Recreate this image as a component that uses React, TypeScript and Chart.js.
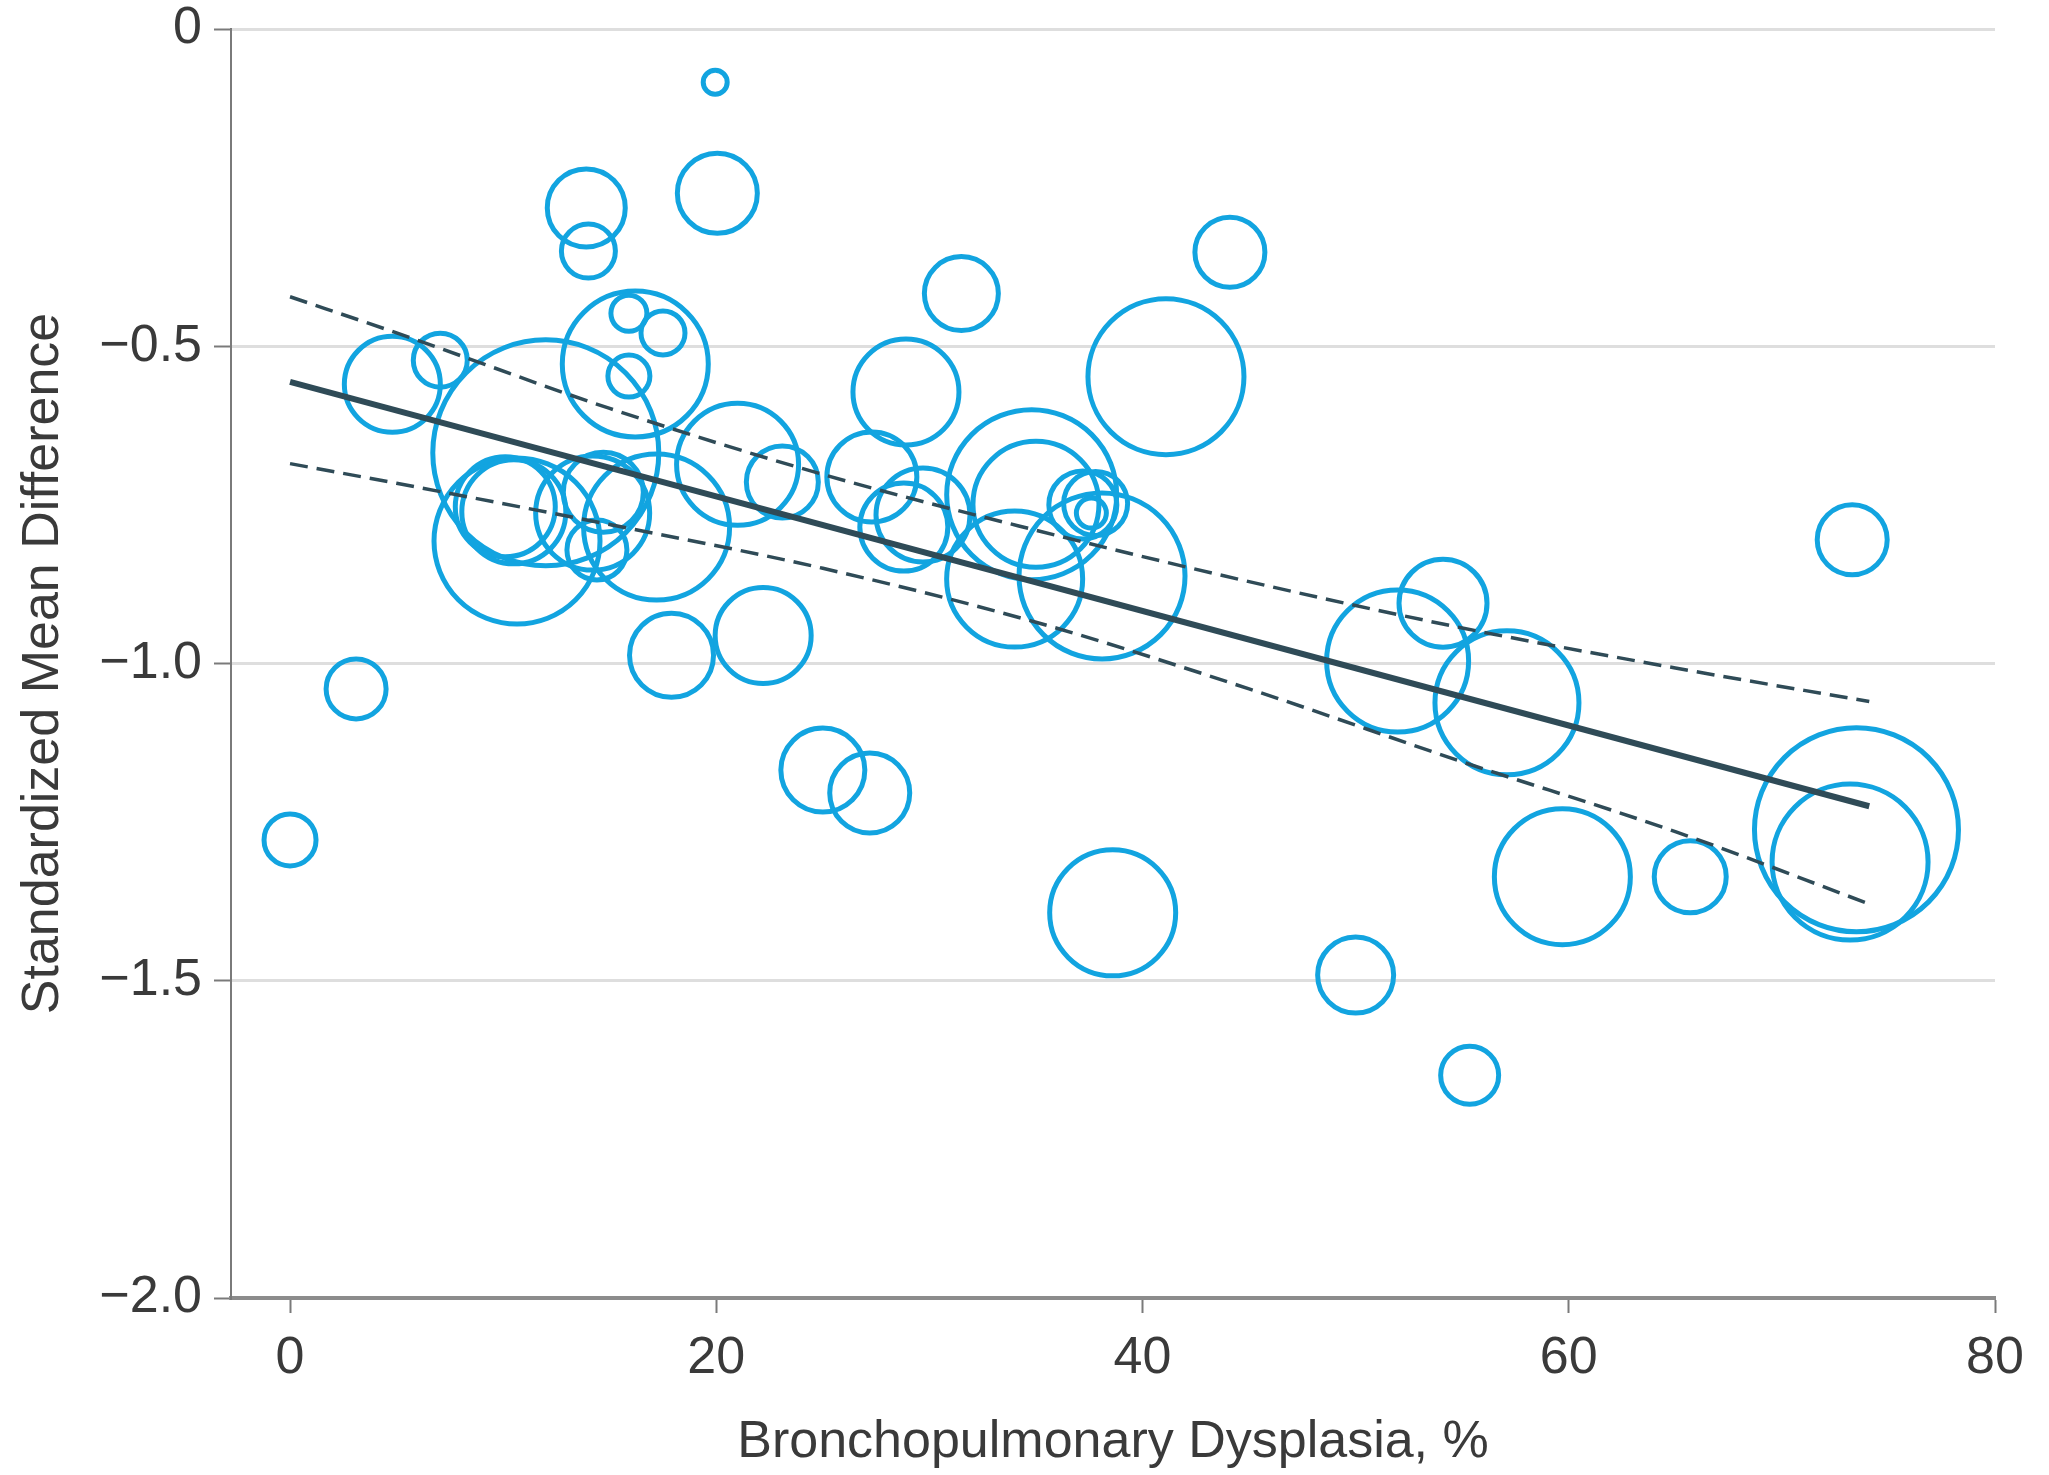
import React, { useEffect, useRef } from "react";
import { Chart, registerables } from "chart.js";

Chart.register(...registerables);

// Study bubbles: BPD % (x), standardized mean difference (y), bubble radius in px (weight)
const bubbleX = [
  0.0, 3.1, 4.8, 7.05, 12.0, 16.2, 15.9, 17.5, 15.9, 10.65,
  10.1, 10.5, 14.7, 14.2, 14.4, 17.2, 21.0, 23.1, 17.9, 22.2,
  25.0, 27.2, 27.3, 28.9, 29.7, 28.8, 34.8, 35.0, 34.0, 38.1,
  37.2, 37.8, 37.6, 41.1, 19.95, 20.05, 13.9, 14.0, 31.5, 44.1,
  38.6, 51.97, 54.1, 57.1, 59.7, 65.7, 50.0, 55.35, 73.5, 73.2,
  73.3,
];
const bubbleY = [
  -1.278, -1.04, -0.56, -0.522, -0.668, -0.528, -0.448, -0.479, -0.547, -0.807,
  -0.753, -0.761, -0.73, -0.763, -0.821, -0.785, -0.686, -0.714, -0.987, -0.956,
  -1.168, -1.204, -0.706, -0.572, -0.766, -0.785, -0.734, -0.749, -0.867, -0.862,
  -0.75, -0.748, -0.763, -0.548, -0.084, -0.259, -0.282, -0.35, -0.417, -0.352,
  -1.393, -0.996, -0.905, -1.062, -1.336, -1.336, -1.491, -1.649, -1.262, -1.313,
  -0.805,
];
const bubbleR = [
  26, 30, 48, 27, 113, 73, 18, 22, 21, 83,
  50, 52, 40, 57, 30, 73, 61, 36, 42, 48,
  42, 40, 45, 53, 47, 44, 85, 63, 68, 83,
  34, 32, 15, 78, 12, 40, 39, 27, 37, 35,
  63, 71, 44, 72, 68, 36, 38, 29, 102, 78,
  35,
];

// Meta-regression line and its 95% CI band
const regX = [0, 74.1];
const regY = [-0.556, -1.225];
const ciX = [0, 5, 15, 25, 35, 45, 55, 65, 74.1];
const ciUpper = [-0.422, -0.479, -0.598, -0.702, -0.79, -0.871, -0.944, -1.007, -1.06];
const ciLower = [-0.685, -0.716, -0.781, -0.85, -0.935, -1.04, -1.155, -1.265, -1.379];

// Axes
const xTickValues = [0, 20, 40, 60, 80];
const yTickValues = [0, -0.5, -1.0, -1.5, -2.0];
const yTickLabels = ["0", "\u22120.5", "\u22121.0", "\u22121.5", "\u22122.0"];
const xTitle = "Bronchopulmonary Dysplasia, %";
const yTitle = "Standardized Mean Difference";

const FONT = "'Liberation Sans', Arial, sans-serif";
const TEXT = "#3a3a3a";
const BLUE = "#12a4e0";
const DARK = "#2f4b57";

export default function App() {
  const ref = useRef<HTMLCanvasElement | null>(null);

  useEffect(() => {
    if (!ref.current) return;
    const bubbles = bubbleX.map((x, i) => ({ x, y: bubbleY[i], r: bubbleR[i] }));
    const reg = regX.map((x, i) => ({ x, y: regY[i] }));
    const up = ciX.map((x, i) => ({ x, y: ciUpper[i] }));
    const lo = ciX.map((x, i) => ({ x, y: ciLower[i] }));

    const chart = new Chart(ref.current, {
      type: "bubble",
      data: {
        datasets: [
          {
            type: "line",
            data: reg,
            borderColor: DARK,
            borderWidth: 6,
            pointRadius: 0,
            fill: false,
            order: 0,
          } as any,
          {
            type: "line",
            data: up,
            borderColor: DARK,
            borderWidth: 3.5,
            borderDash: [18, 9],
            pointRadius: 0,
            cubicInterpolationMode: "monotone",
            fill: false,
            order: 0,
          } as any,
          {
            type: "line",
            data: lo,
            borderColor: DARK,
            borderWidth: 3.5,
            borderDash: [18, 9],
            pointRadius: 0,
            cubicInterpolationMode: "monotone",
            fill: false,
            order: 0,
          } as any,
          {
            type: "bubble",
            data: bubbles,
            borderColor: BLUE,
            backgroundColor: "rgba(0,0,0,0)",
            borderWidth: 5,
            order: 1,
          } as any,
        ],
      },
      options: {
        animation: false,
        responsive: true,
        maintainAspectRatio: false,
        devicePixelRatio: 1,
        events: [],
        layout: { autoPadding: false, padding: { left: 0, right: 54, top: 29, bottom: 0 } },
        plugins: { legend: { display: false }, tooltip: { enabled: false } },
        scales: {
          x: {
            type: "linear",
            min: -2.77,
            max: 80,
            afterBuildTicks: (s: any) => {
              s.ticks = xTickValues.map((v) => ({ value: v }));
            },
            afterFit: (s: any) => {
              s.height = 177;
              s.paddingLeft = 0;
              s.paddingRight = 0;
            },
            ticks: {
              color: TEXT,
              font: { family: FONT, size: 52, lineHeight: 1 },
              padding: 20,
              maxRotation: 0,
              callback: (v: any) => String(v),
            },
            grid: {
              drawOnChartArea: false,
              drawTicks: true,
              tickLength: 15,
              tickColor: "#7a7a7a",
              tickWidth: 2,
            },
            border: { display: true, color: "#8c8c8c", width: 4 },
            title: {
              display: true,
              text: xTitle,
              color: TEXT,
              font: { family: FONT, size: 52 },
              padding: { top: 0, bottom: 1 },
            },
          },
          y: {
            type: "linear",
            min: -2,
            max: 0,
            afterBuildTicks: (s: any) => {
              s.ticks = yTickValues.map((v) => ({ value: v }));
            },
            afterFit: (s: any) => {
              s.width = 231;
              s.paddingTop = 0;
              s.paddingBottom = 0;
            },
            ticks: {
              color: TEXT,
              font: { family: FONT, size: 52, lineHeight: 1 },
              padding: 12,
              callback: (v: any) => {
                const i = yTickValues.findIndex((t) => Math.abs(t - v) < 1e-9);
                return i >= 0 ? yTickLabels[i] : "";
              },
            },
            grid: {
              color: "#dedede",
              lineWidth: 3,
              drawTicks: true,
              tickLength: 17,
              tickColor: "#7a7a7a",
              tickWidth: 2,
            },
            border: { display: true, color: "#7a7a7a", width: 2 },
            title: {
              display: true,
              text: yTitle,
              color: TEXT,
              font: { family: FONT, size: 52 },
              padding: { top: 12, bottom: 0 },
            },
          },
        },
      } as any,
    });
    return () => chart.destroy();
  }, []);

  return (
    <div
      style={{
        position: "fixed",
        left: 0,
        top: 0,
        width: 2049,
        height: 1475,
        background: "#ffffff",
      }}
    >
      <canvas ref={ref} />
    </div>
  );
}
